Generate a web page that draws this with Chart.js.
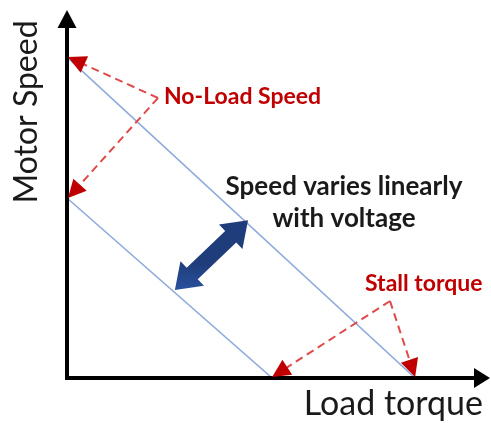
<!DOCTYPE html>
<html>
<head>
<meta charset="utf-8">
<script src="https://cdn.jsdelivr.net/npm/chart.js@4"></script>
<style>
    html, body { margin: 0; padding: 0; background: #ffffff; }
    #container { width: 491px; height: 423px; position: relative; }
</style>
</head>
<body>
<div id="container"><canvas id="canvas"></canvas></div>
<script>
    // 데이터 (축 단위 0~10)
    const voltageLevels = ["High voltage", "Low voltage"];
    const noLoadSpeed = [8.72, 4.89];   // y 절편
    const stallTorque = [8.23, 4.85];   // x 절편
    const shiftArrowFrom = [2.55, 2.39];
    const shiftArrowTo = [4.28, 4.29];
    const axisMax = 10;

    // 색
    const LineBlue = "#8faadc";
    const DarkRed = "#c00000";
    const DashRed = "#e04a4a";
    const TextBlack = "#1a1a1a";

    // 삼각형 화살촉
    function drawHead(ctx, fromX, fromY, toX, toY, len, half, color) {
        let a = Math.atan2(toY - fromY, toX - fromX);
        ctx.save();
        ctx.translate(toX, toY);
        ctx.rotate(a);
        ctx.fillStyle = color;
        ctx.beginPath();
        ctx.moveTo(0, 0);
        ctx.lineTo(-len, -half);
        ctx.lineTo(-len, half);
        ctx.closePath();
        ctx.fill();
        ctx.restore();
    }

    // 점선 + 화살촉 (꼭짓점에서 두 대상으로)
    function drawCallout(ctx, vx, vy, targets) {
        targets.forEach(function (t) {
            let a = Math.atan2(t[1] - vy, t[0] - vx);
            let ex = t[0] - Math.cos(a) * 16;
            let ey = t[1] - Math.sin(a) * 16;
            ctx.save();
            ctx.strokeStyle = DashRed;
            ctx.lineWidth = 2;
            ctx.setLineDash([8, 5]);
            ctx.beginPath();
            ctx.moveTo(vx, vy);
            ctx.lineTo(ex, ey);
            ctx.stroke();
            ctx.restore();
            drawHead(ctx, vx, vy, t[0], t[1], 18, 9, DarkRed);
        });
    }

    const annotationPlugin = {
        id: "motorAnnotations",
        afterDatasetsDraw: function (chart) {
            const ctx = chart.ctx;
            const xS = chart.scales.x;
            const yS = chart.scales.y;
            const ox = xS.getPixelForValue(0);
            const oy = yS.getPixelForValue(0);
            const top = yS.getPixelForValue(axisMax);
            const right = xS.getPixelForValue(axisMax);

            // 양방향 화살표 (전압 변화)
            let x1 = xS.getPixelForValue(shiftArrowFrom[0]), y1 = yS.getPixelForValue(shiftArrowFrom[1]);
            let x2 = xS.getPixelForValue(shiftArrowTo[0]), y2 = yS.getPixelForValue(shiftArrowTo[1]);
            let ang = Math.atan2(y2 - y1, x2 - x1);
            let L = Math.hypot(x2 - x1, y2 - y1);
            let hl = 24, hw = 17, sw = 8;
            let grad = ctx.createLinearGradient(x1, y1, x2, y2);
            grad.addColorStop(0, "#4d84e0");
            grad.addColorStop(0.5, "#3363bd");
            grad.addColorStop(1, "#1f3d7a");
            ctx.save();
            ctx.translate(x1, y1);
            ctx.rotate(ang);
            ctx.fillStyle = grad;
            ctx.beginPath();
            ctx.moveTo(0, 0);
            ctx.lineTo(hl, -hw);
            ctx.lineTo(hl, -sw);
            ctx.lineTo(L - hl, -sw);
            ctx.lineTo(L - hl, -hw);
            ctx.lineTo(L, 0);
            ctx.lineTo(L - hl, hw);
            ctx.lineTo(L - hl, sw);
            ctx.lineTo(hl, sw);
            ctx.lineTo(hl, hw);
            ctx.closePath();
            ctx.fill();
            ctx.restore();

            // 축
            ctx.save();
            ctx.strokeStyle = "#000000";
            ctx.lineWidth = 4;
            ctx.beginPath();
            ctx.moveTo(ox, oy + 2);
            ctx.lineTo(ox, top + 14);
            ctx.moveTo(ox - 2, oy);
            ctx.lineTo(right - 12, oy);
            ctx.stroke();
            ctx.restore();
            drawHead(ctx, ox, oy, ox, top, 18, 9.5, "#000000");
            drawHead(ctx, ox, oy, right, oy, 16, 10, "#000000");

            // No-Load Speed 설명선
            drawCallout(ctx, 158, 98, noLoadSpeed.map(function (v) {
                return [xS.getPixelForValue(0) + 1, yS.getPixelForValue(v)];
            }));
            // Stall torque 설명선
            drawCallout(ctx, 390, 301, stallTorque.map(function (v) {
                return [xS.getPixelForValue(v), yS.getPixelForValue(0) - 1];
            }));

            // 텍스트
            ctx.save();
            ctx.fillStyle = TextBlack;
            ctx.font = "34px Lato";
            ctx.textAlign = "right";
            ctx.textBaseline = "alphabetic";
            ctx.fillText("Load torque", 483, 415);

            ctx.save();
            ctx.font = "32px Lato";
            ctx.translate(37, 112);
            ctx.rotate(-Math.PI / 2);
            ctx.textAlign = "center";
            ctx.fillText("Motor Speed", 0, 0);
            ctx.restore();

            ctx.font = "bold 26px Lato";
            ctx.textAlign = "center";
            ctx.fillText("Speed varies linearly", 344, 195);
            ctx.fillText("with voltage", 344, 227);

            ctx.fillStyle = DarkRed;
            ctx.font = "bold 23px Lato";
            ctx.textAlign = "left";
            ctx.fillText("No-Load Speed", 164, 104);
            ctx.fillText("Stall torque", 365, 291);
            ctx.restore();
        }
    };

    const ctx = document.getElementById("canvas").getContext("2d");
    new Chart(ctx, {
        type: "scatter",
        data: {
            datasets: voltageLevels.map(function (label, i) {
                return {
                    label: label,
                    data: [{ x: 0, y: noLoadSpeed[i] }, { x: stallTorque[i], y: 0 }],
                    showLine: true,
                    borderColor: LineBlue,
                    borderWidth: 1.6,
                    pointRadius: 0,
                    fill: false
                };
            })
        },
        options: {
            responsive: true,
            maintainAspectRatio: false,
            animation: false,
            events: [],
            layout: { padding: { left: 67, right: 1, top: 10, bottom: 45 } },
            plugins: {
                legend: { display: false },
                tooltip: { enabled: false }
            },
            scales: {
                x: { type: "linear", display: false, min: 0, max: axisMax },
                y: { type: "linear", display: false, min: 0, max: axisMax }
            }
        },
        plugins: [annotationPlugin]
    });
</script>
</body>
</html>
